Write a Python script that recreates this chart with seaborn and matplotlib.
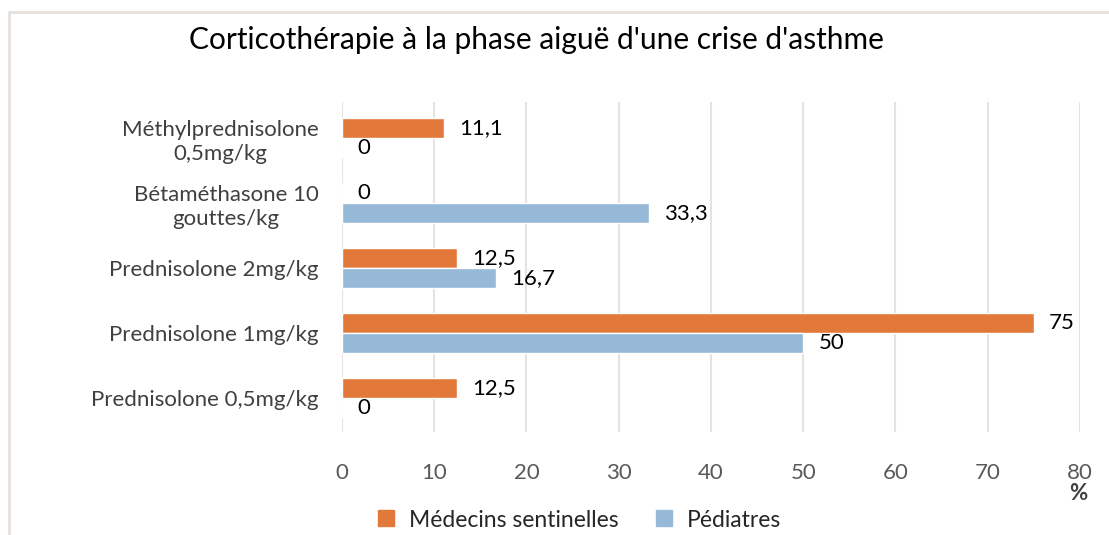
import pandas as pd
import seaborn as sns
import matplotlib.pyplot as plt
from matplotlib.lines import Line2D

# data (percent)
categories = [
    "Méthylprednisolone\n0,5mg/kg",
    "Bétaméthasone 10\ngouttes/kg",
    "Prednisolone 2mg/kg",
    "Prednisolone 1mg/kg",
    "Prednisolone 0,5mg/kg",
]
medecins = [11.1, 0, 12.5, 75, 12.5]
pediatres = [0, 33.3, 16.7, 50, 0]
series = ["Médecins sentinelles", "Pédiatres"]
colors = ["#E2793A", "#97B9D8"]
xticks = [0, 10, 20, 30, 40, 50, 60, 70, 80]

df = pd.DataFrame({
    "Traitement": categories * 2,
    "Valeur": medecins + pediatres,
    "Groupe": [series[0]] * len(categories) + [series[1]] * len(categories),
})

sns.set_style("white")
plt.rcParams["font.family"] = ["Lato", "DejaVu Sans"]

fig = plt.figure(figsize=(11.09, 5.35), dpi=100)
ax = fig.add_axes([0.3084, 0.1925, 0.6654, 0.6168])

sns.barplot(data=df, x="Valeur", y="Traitement", hue="Groupe", order=categories,
            hue_order=series, palette=colors, orient="h", width=0.62,
            saturation=1, ax=ax, legend=False)

for cont in ax.containers:
    labels = [f"{v:g}".replace(".", ",") for v in cont.datavalues]
    ax.bar_label(cont, labels=labels, padding=11, fontsize=16, color="black")

ax.set_xlim(0, 80)
ax.set_ylim(4.52, -0.55)
ax.set_xticks(xticks)
ax.set_xlabel("")
ax.set_ylabel("")
ax.grid(axis="x", color="#E8E2DF", linewidth=1.5)
ax.set_axisbelow(True)
for s in ax.spines.values():
    s.set_visible(False)
ax.tick_params(axis="x", length=0, pad=22, labelsize=16, labelcolor="#595959")
ax.tick_params(axis="y", length=0, pad=17, labelsize=16, labelcolor="#404040")
for t in ax.get_yticklabels():
    t.set_multialignment("center")
    t.set_linespacing(1.25)

fig.text(0.972, 0.078, "%", fontsize=16, color="#404040", ha="center", va="center",
         fontweight="bold")

fig.text(0.484, 0.925, "Corticothérapie à la phase aiguë d'une crise d'asthme",
         fontsize=21.5, ha="center", va="center", color="black")

handles = [Line2D([], [], marker="s", linestyle="", markersize=11, color=c) for c in colors]
fig.legend(handles, series, loc="center", bbox_to_anchor=(0.516, 0.028), ncol=2,
           frameon=False, fontsize=16.5, handletextpad=0.0, columnspacing=1.0,
           labelcolor="#262626")

# outer chart frame
fig.add_artist(Line2D([9 / 1109, 9 / 1109, 1.0], [0.0, 1 - 12 / 535, 1 - 12 / 535],
                      color="#E6E0DC", linewidth=2, transform=fig.transFigure))

fig.savefig("out.png", dpi=100)
